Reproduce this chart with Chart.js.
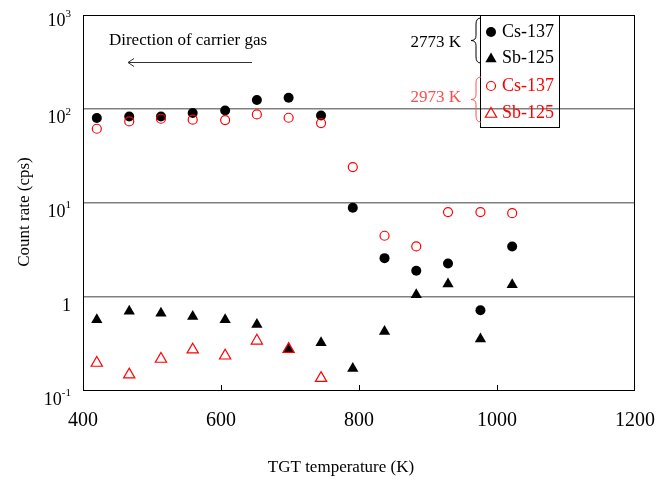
<!DOCTYPE html>
<html>
<head>
<meta charset="utf-8">
<script src="https://cdn.jsdelivr.net/npm/chart.js@4/dist/chart.umd.min.js"></script>
<style>
  body { margin: 0; background: #fff; }
  #wrap { width: 671px; height: 488px; }
</style>
</head>
<body>
<div id="wrap"><canvas id="countChart" width="671" height="488"></canvas></div>
<script>
// TGT temperatures (K)
const temps = [420, 467, 513, 559, 606, 652, 698, 745, 791, 837, 883, 929, 976, 1022];

// Count rates (cps)
const cs2773 = [79.6, 82.8, 82.8, 90, 95.9, 123.8, 131, 84.9, 8.8, 2.55, 1.87, 2.24, 0.71, 3.4];
const sb2773 = [0.56, 0.69, 0.66, 0.61, 0.56, 0.5, 0.27, 0.32, 0.17, 0.42, 1.04, 1.35, 0.35, 1.33];
const cs2973 = [61.2, 73.2, 78.2, 76.4, 75.7, 86.9, 80.2, 70.3, 23.9, 4.42, 3.4, 7.9, 7.9, 7.7];
const sb2973 = [0.194, 0.146, 0.214, 0.269, 0.232, 0.335, 0.273, 0.134];

const xTicks = [400, 600, 800, 1000, 1200];
const yTicks = [0.1, 1, 10, 100, 1000];
const yTickLabels = [["10", "-1"], ["1", ""], ["10", "1"], ["10", "2"], ["10", "3"]];

const RED = "#ff0000";
const SERIF = "'Liberation Serif', 'Times New Roman', serif";

function pts(xs, ys) {
  return ys.map((y, i) => ({ x: xs[i], y: y }));
}

// curly brace, spine at x, opening to the right, nose to the left
function drawBrace(ctx, x, y1, y2, color) {
  const mid = (y1 + y2) / 2;
  const w = 5;
  ctx.save();
  ctx.strokeStyle = color;
  ctx.lineWidth = 1;
  ctx.beginPath();
  ctx.moveTo(x + w, y1);
  ctx.quadraticCurveTo(x, y1, x, y1 + 6);
  ctx.lineTo(x, mid - 5);
  ctx.quadraticCurveTo(x, mid, x - w, mid);
  ctx.quadraticCurveTo(x, mid, x, mid + 5);
  ctx.lineTo(x, y2 - 6);
  ctx.quadraticCurveTo(x, y2, x + w, y2);
  ctx.stroke();
  ctx.restore();
}

function marker(ctx, kind, x, y, color, filled) {
  ctx.save();
  ctx.beginPath();
  if (kind === "circle") {
    ctx.arc(x, y, filled ? 5 : 4.5, 0, Math.PI * 2);
  } else {
    const r = 6.5;
    ctx.moveTo(x, y - r);
    ctx.lineTo(x + r * 0.866, y + r / 2);
    ctx.lineTo(x - r * 0.866, y + r / 2);
    ctx.closePath();
  }
  if (filled) {
    ctx.fillStyle = color;
    ctx.fill();
  } else {
    ctx.strokeStyle = color;
    ctx.lineWidth = 1.2;
    ctx.stroke();
  }
  ctx.restore();
}

const decorations = {
  id: "decorations",
  afterDraw(chart) {
    const ctx = chart.ctx;
    const a = chart.chartArea;
    const xs = chart.scales.x;
    const ys = chart.scales.y;
    ctx.save();

    // frame
    ctx.strokeStyle = "#000";
    ctx.lineWidth = 1;
    ctx.strokeRect(a.left + 0.5, a.top + 0.5, a.right - a.left - 1, a.bottom - a.top);

    // inward ticks on the bottom axis
    xTicks.slice(1, -1).forEach((v) => {
      const px = Math.round(xs.getPixelForValue(v)) + 0.5;
      ctx.beginPath();
      ctx.moveTo(px, a.bottom);
      ctx.lineTo(px, a.bottom - 5);
      ctx.stroke();
    });

    // x tick labels
    ctx.fillStyle = "#000";
    ctx.font = "20px " + SERIF;
    ctx.textAlign = "center";
    ctx.textBaseline = "middle";
    xTicks.forEach((v) => {
      ctx.fillText(String(v), xs.getPixelForValue(v), a.bottom + 31);
    });

    // x title
    ctx.font = "17px " + SERIF;
    ctx.fillText("TGT temperature (K)", 341, 468);

    // y tick labels with superscripts
    yTicks.forEach((v, i) => {
      const py = ys.getPixelForValue(v) + (i === yTicks.length - 1 ? 6 : 10);
      const base = yTickLabels[i][0];
      const sup = yTickLabels[i][1];
      ctx.textAlign = "right";
      ctx.textBaseline = "middle";
      ctx.font = "11px " + SERIF;
      const supW = sup ? ctx.measureText(sup).width : 0;
      if (sup) ctx.fillText(sup, 71, py - 7);
      ctx.font = "18px " + SERIF;
      ctx.fillText(base, 71 - supW, py);
    });

    // y title
    ctx.save();
    ctx.translate(25, 212);
    ctx.rotate(-Math.PI / 2);
    ctx.textAlign = "center";
    ctx.font = "17px " + SERIF;
    ctx.fillText("Count rate (cps)", 0, 0);
    ctx.restore();

    // direction of carrier gas
    ctx.textAlign = "center";
    ctx.font = "17px " + SERIF;
    ctx.fillText("Direction of carrier gas", 188, 41);
    ctx.strokeStyle = "#333";
    ctx.beginPath();
    ctx.moveTo(252, 62.5);
    ctx.lineTo(128, 62.5);
    ctx.moveTo(134, 58.5);
    ctx.lineTo(128, 62.5);
    ctx.lineTo(134, 66.5);
    ctx.stroke();

    // legend box
    ctx.strokeStyle = "#000";
    ctx.strokeRect(480.5, a.top + 0.5, 79, 112);
    const rows = [
      ["circle", "#000", true, "Cs-137", 32],
      ["triangle", "#000", true, "Sb-125", 58],
      ["circle", RED, false, "Cs-137", 86],
      ["triangle", RED, false, "Sb-125", 113],
    ];
    ctx.font = "18px " + SERIF;
    ctx.textAlign = "left";
    rows.forEach((r) => {
      marker(ctx, r[0], 491, r[0] === "triangle" ? r[4] + 1 : r[4], r[1], r[2]);
      ctx.fillStyle = r[1];
      ctx.fillText(r[3], 502, r[4]);
    });

    // braces and temperature labels
    drawBrace(ctx, 476, 18, 63, "#000");
    drawBrace(ctx, 476, 77, 122, "#ff5050");
    ctx.textAlign = "right";
    ctx.font = "17px " + SERIF;
    ctx.fillStyle = "#000";
    ctx.fillText("2773 K", 461, 43);
    ctx.fillStyle = "#ff4d4d";
    ctx.fillText("2973 K", 461, 98);

    ctx.restore();
  },
};

const ctx = document.getElementById("countChart");
new Chart(ctx, {
  type: "scatter",
  data: {
    datasets: [
      {
        label: "Cs-137 2973 K",
        data: pts(temps, cs2973),
        pointStyle: "circle",
        pointRadius: 4.5,
        pointBorderWidth: 1.2,
        borderColor: RED,
        backgroundColor: "rgba(0,0,0,0)",
        order: 0,
      },
      {
        label: "Sb-125 2973 K",
        data: pts(temps, sb2973),
        pointStyle: "triangle",
        pointRadius: 6.5,
        pointBorderWidth: 1.2,
        borderColor: RED,
        backgroundColor: "rgba(0,0,0,0)",
        order: 0,
      },
      {
        label: "Cs-137 2773 K",
        data: pts(temps, cs2773),
        pointStyle: "circle",
        pointRadius: 5,
        pointBorderWidth: 0,
        borderColor: "#000",
        backgroundColor: "#000",
        order: 1,
      },
      {
        label: "Sb-125 2773 K",
        data: pts(temps, sb2773),
        pointStyle: "triangle",
        pointRadius: 6.5,
        pointBorderWidth: 0,
        borderColor: "#000",
        backgroundColor: "#000",
        order: 1,
      },
    ],
  },
  options: {
    responsive: false,
    animation: false,
    layout: { padding: { left: 83, right: 36, top: 15, bottom: 98 } },
    plugins: {
      legend: { display: false },
      tooltip: { enabled: false },
    },
    scales: {
      x: {
        type: "linear",
        min: 400,
        max: 1200,
        ticks: { display: false },
        grid: { display: false, drawTicks: false },
        border: { display: false },
      },
      y: {
        type: "logarithmic",
        min: 0.1,
        max: 1000,
        afterBuildTicks: (scale) => {
          scale.ticks = yTicks.map((v) => ({ value: v }));
        },
        ticks: { display: false },
        grid: {
          drawTicks: false,
          lineWidth: 1.5,
          color: (c) => (c.tick && (c.tick.value === 1 || c.tick.value === 10 || c.tick.value === 100) ? "#808080" : "rgba(0,0,0,0)"),
        },
        border: { display: false },
      },
    },
  },
  plugins: [decorations],
});
</script>
</body>
</html>
